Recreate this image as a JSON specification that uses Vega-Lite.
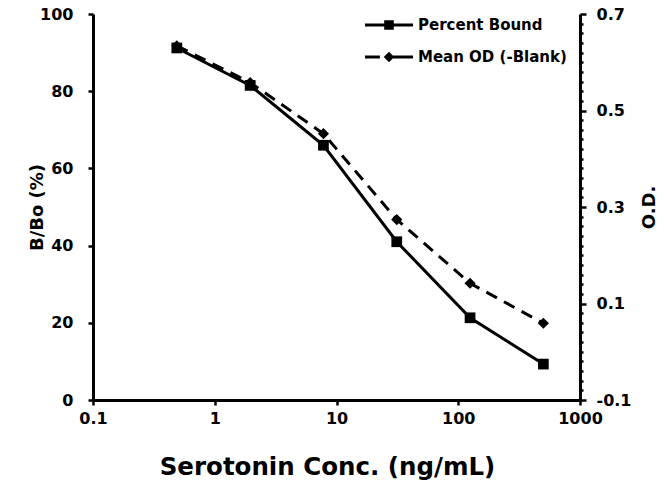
{
  "$schema": "https://vega.github.io/schema/vega-lite/v6.json",
  "width": 487,
  "height": 386,
  "autosize": "none",
  "padding": {"left": 93, "top": 14, "right": 91, "bottom": 80},
  "background": "white",
  "config": {
    "view": {"stroke": null},
    "font": "DejaVu Sans",
    "axis": {
      "grid": false,
      "domainColor": "black",
      "domainWidth": 3,
      "tickColor": "black",
      "tickWidth": 2.5,
      "tickSize": 5,
      "labelFont": "DejaVu Sans",
      "labelFontWeight": "bold",
      "labelFontSize": 16,
      "labelColor": "black",
      "labelFlush": false,
      "titleFont": "DejaVu Sans",
      "titleFontWeight": "bold",
      "titleColor": "black",
      "labelOverlap": false
    }
  },
  "data": {
    "values": [
      {"conc": 0.488, "series": "Percent Bound", "value": 91.2},
      {"conc": 1.953, "series": "Percent Bound", "value": 81.5},
      {"conc": 7.8125, "series": "Percent Bound", "value": 66.0},
      {"conc": 31.25, "series": "Percent Bound", "value": 41.0},
      {"conc": 125, "series": "Percent Bound", "value": 21.3},
      {"conc": 500, "series": "Percent Bound", "value": 9.3},
      {"conc": 0.488, "series": "Mean OD (-Blank)", "value": 0.634},
      {"conc": 1.953, "series": "Mean OD (-Blank)", "value": 0.558},
      {"conc": 7.8125, "series": "Mean OD (-Blank)", "value": 0.452},
      {"conc": 31.25, "series": "Mean OD (-Blank)", "value": 0.274},
      {"conc": 125, "series": "Mean OD (-Blank)", "value": 0.142},
      {"conc": 500, "series": "Mean OD (-Blank)", "value": 0.059}
    ]
  },
  "layer": [
    {
      "encoding": {
        "x": {
          "field": "conc",
          "type": "quantitative",
          "scale": {"type": "log", "domain": [0.1, 1000], "nice": false},
          "axis": {
            "values": [0.1, 1, 10, 100, 1000],
            "format": "~g",
            "title": "Serotonin Conc. (ng/mL)",
            "titleFontSize": 24.5,
            "titleX": 234,
            "labelPadding": 5,
            "titlePadding": 29
          }
        },
        "y": {
          "field": "value",
          "type": "quantitative",
          "scale": {"domain": [0, 100], "nice": false},
          "axis": {
            "values": [0, 20, 40, 60, 80, 100],
            "title": "B/Bo (%)",
            "titleFontSize": 18,
            "labelPadding": 15,
            "titlePadding": -7
          }
        }
      },
      "layer": [
        {
          "transform": [{"filter": "datum.series == 'Percent Bound'"}],
          "mark": {"type": "line", "color": "black", "strokeWidth": 3}
        },
        {
          "transform": [{"filter": "datum.series == 'Percent Bound'"}],
          "mark": {"type": "point", "shape": "square", "filled": true, "color": "black", "size": 115, "opacity": 1}
        }
      ]
    },
    {
      "encoding": {
        "x": {"field": "conc", "type": "quantitative", "scale": {"type": "log", "domain": [0.1, 1000], "nice": false}},
        "y": {
          "field": "value",
          "type": "quantitative",
          "scale": {"domain": [-0.1, 0.7], "nice": false},
          "axis": {
            "orient": "right",
            "values": [-0.1, -0.08, -0.06, -0.04, -0.02, 0, 0.02, 0.04, 0.06, 0.08, 0.1, 0.12, 0.14, 0.16, 0.18, 0.2, 0.22, 0.24, 0.26, 0.28, 0.3, 0.32, 0.34, 0.36, 0.38, 0.4, 0.42, 0.44, 0.46, 0.48, 0.5, 0.52, 0.54, 0.56, 0.58, 0.6, 0.62, 0.64, 0.66, 0.68, 0.7],
            "labelExpr": "(abs(datum.value*10 - round(datum.value*10)) < 0.000001 && abs(round(datum.value*10)) % 2 == 1) ? replace(format(datum.value, '.1f'), '\u2212', '-') : ''",
            "tickSize": {"condition": {"test": "abs(datum.value*10 - round(datum.value*10)) < 0.000001 && abs(round(datum.value*10)) % 2 == 1", "value": 6}, "value": 3},
            "title": "O.D.",
            "titleFontSize": 18,
            "titleAngle": 270,
            "labelPadding": 10,
            "titlePadding": 28
          }
        }
      },
      "layer": [
        {
          "transform": [{"filter": "datum.series == 'Mean OD (-Blank)'"}],
          "mark": {"type": "line", "color": "black", "strokeWidth": 3, "strokeDash": [12, 8]}
        },
        {
          "transform": [{"filter": "datum.series == 'Mean OD (-Blank)'"}],
          "mark": {"type": "point", "shape": "diamond", "filled": true, "color": "black", "size": 125, "opacity": 1}
        },
        {
          "mark": {"type": "point", "filled": true, "color": "black", "opacity": 0},
          "encoding": {
            "y": {"value": 100},
            "shape": {
              "field": "series",
              "type": "nominal",
              "scale": {
                "domain": ["Percent Bound", "Mean OD (-Blank)"],
                "range": [
                  "M-1,-0.06H1V0.06H-1ZM-0.2,-0.2H0.2V0.2H-0.2Z",
                  "M-1,-0.06H-0.38V0.06H-1ZM0,-0.22L0.22,0L0,0.22L-0.22,0ZM0.12,-0.06H1V0.06H0.12Z"
                ]
              },
              "legend": {
                "title": null,
                "orient": "none",
                "legendX": 272,
                "legendY": -13,
                "padding": 0,
                "symbolSize": 2304,
                "symbolOpacity": 1,
                "symbolFillColor": "black",
                "symbolStrokeColor": "black",
                "symbolStrokeWidth": 0,
                "labelFont": "DejaVu Sans",
                "labelFontWeight": "bold",
                "labelFontSize": 15,
                "labelColor": "black",
                "labelOffset": 5,
                "labelLimit": 300,
                "rowPadding": -17
              }
            }
          }
        }
      ]
    }
  ],
  "resolve": {"scale": {"y": "independent"}}
}
